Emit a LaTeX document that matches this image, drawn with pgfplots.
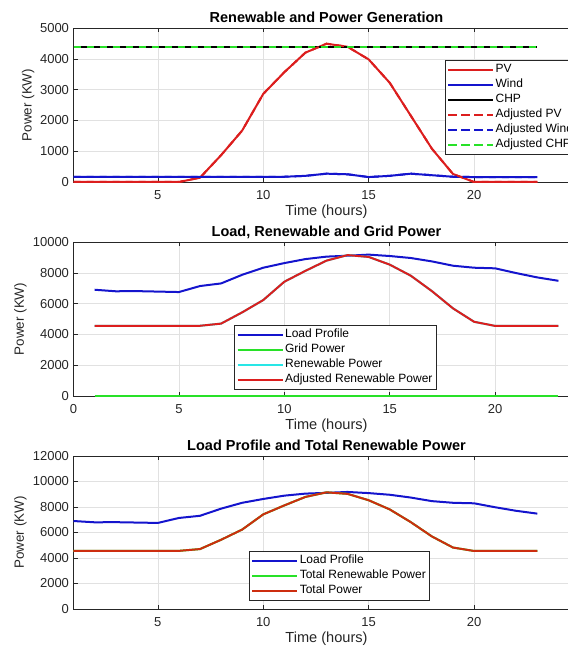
\documentclass[border=0pt]{standalone}
\usepackage{fontspec}
\setmainfont{Liberation Sans}
\usepackage{pgfplots}
\usepackage{pgfplotstable}
\pgfplotsset{compat=1.18}

\definecolor{mred}{RGB}{220,30,30}
\definecolor{mblue}{RGB}{20,20,205}
\definecolor{mgreen}{RGB}{40,225,40}
\definecolor{mcyan}{RGB}{40,230,230}
\definecolor{mbrown}{RGB}{205,45,15}
\definecolor{axgray}{RGB}{38,38,38}
\definecolor{gridgray}{RGB}{225,225,225}

\pgfplotstableread{
h pv wind chp
1 0 170 4390
2 0 170 4390
3 0 170 4390
4 0 170 4390
5 0 170 4390
6 0 170 4390
7 140 170 4390
8 870 170 4390
9 1670 170 4390
10 2860 170 4390
11 3565 170 4390
12 4200 200 4390
13 4490 270 4390
14 4390 250 4390
15 3980 160 4390
16 3220 200 4390
17 2150 270 4390
18 1080 220 4390
19 260 170 4390
20 0 160 4390
21 0 160 4390
22 0 160 4390
23 0 160 4390
}\gen

\pgfplotstableread{
h load grid ren
1 6900 0 4560
2 6800 0 4560
3 6810 0 4560
4 6780 0 4560
5 6750 0 4560
6 7140 0 4560
7 7310 0 4700
8 7870 0 5430
9 8330 0 6230
10 8630 0 7420
11 8890 0 8125
12 9050 0 8790
13 9110 0 9150
14 9180 0 9030
15 9090 0 8530
16 8960 0 7810
17 8740 0 6810
18 8460 0 5690
19 8330 0 4820
20 8290 0 4550
21 7980 0 4550
22 7700 0 4550
23 7480 0 4550
}\bal

\pgfplotsset{
  legend image code/.code={\path (0pt,0pt) -- (45pt,0pt); \draw[#1] (2pt,0pt) -- (43pt,0pt);},
  every axis title shift=0pt,
  myaxis/.style={
    scale only axis, width=506pt, anchor=south west,
    axis line style={axgray, line width=0.6pt},
    tick style={axgray, line width=0.5pt},
    tick align=inside, major tick length=4pt,
    grid=major, major grid style={gridgray, line width=0.5pt},
    ticklabel style={font=\fontsize{13}{15}\selectfont, text=axgray},
    xticklabel style={yshift=-5pt},
    yticklabel style={xshift=-1pt},
    /pgf/number format/assume math mode=true,
    /pgf/number format/1000 sep={},
    scaled y ticks=false, scaled x ticks=false,
    title style={at={(axis description cs:0.5,1)}, anchor=base, yshift=5pt, font=\bfseries\fontsize{14.5}{17}\selectfont, text=black},
    xlabel style={at={(axis description cs:0.5,0)}, anchor=base, yshift=-33.5pt, font=\fontsize{14.6}{17}\selectfont, text=axgray},
    ylabel style={anchor=base, rotate=0, font=\fontsize{13.4}{16}\selectfont, text=axgray},
    xlabel={Time (hours)}, ylabel={Power (KW)},
    clip=false,
    legend style={anchor=north west, draw=axgray, fill=white,
      font=\fontsize{12}{14}\selectfont, inner xsep=2pt, inner ysep=2pt,
      row sep=0pt, nodes={inner xsep=1.5pt, inner ysep=0.5pt, text height=10pt, text depth=4pt},
      cells={anchor=west}},
  }
}

\begin{document}
\begin{tikzpicture}
\begin{scope}
\clip (0,0) rectangle (568pt,646pt);

\begin{axis}[myaxis, at={(73.5pt,464pt)}, height=154pt,
  xmin=1, xmax=25, ymin=0, ymax=5000,
  xtick={5,10,15,20}, ytick={0,1000,...,5000},
  title={Renewable and Power Generation},
  ylabel style={at={(axis description cs:-0.083,0.5)}},
  legend style={at={(axis description cs:0.734,0.792)}}]
\addplot[color=mred, line width=2pt] table[x=h,y=pv]{\gen};
\addlegendentry{PV}
\addplot[color=mblue, line width=2pt] table[x=h,y=wind]{\gen};
\addlegendentry{Wind}
\addplot[color=black, line width=2pt] table[x=h,y=chp]{\gen};
\addlegendentry{CHP}
\addplot[color=mred, line width=2pt, dash pattern=on 7pt off 6pt] table[x=h,y=pv]{\gen};
\addlegendentry{Adjusted PV}
\addplot[color=mblue, line width=2pt, dash pattern=on 7pt off 6pt] table[x=h,y=wind]{\gen};
\addlegendentry{Adjusted Wind}
\addplot[color=mgreen, line width=2pt, dash pattern=on 7pt off 6pt] table[x=h,y=chp]{\gen};
\addlegendentry{Adjusted CHP}
\end{axis}

\begin{axis}[myaxis, at={(73.5pt,250pt)}, height=154pt,
  xmin=0, xmax=24, ymin=0, ymax=10000,
  xtick={0,5,10,15,20}, ytick={0,2000,...,10000},
  title={Load, Renewable and Grid Power},
  ylabel style={at={(axis description cs:-0.098,0.5)}},
  legend style={at={(axis description cs:0.318,0.461)}}]
\addplot[color=mblue, line width=2pt] table[x=h,y=load]{\bal};
\addlegendentry{Load Profile}
\addplot[color=mgreen, line width=2pt] table[x=h,y=grid]{\bal};
\addlegendentry{Grid Power}
\addplot[color=mcyan, line width=2pt] table[x=h,y=ren]{\bal};
\addlegendentry{Renewable Power}
\addplot[color=mred, line width=2pt] table[x=h,y=ren]{\bal};
\addlegendentry{Adjusted Renewable Power}
\end{axis}

\begin{axis}[myaxis, at={(73.5pt,37pt)}, height=153pt,
  xmin=1, xmax=25, ymin=0, ymax=12000,
  xtick={5,10,15,20}, ytick={0,2000,...,12000},
  title={Load Profile and Total Renewable Power},
  ylabel style={at={(axis description cs:-0.098,0.5)}},
  legend style={at={(axis description cs:0.347,0.379)}}]
\addplot[color=mblue, line width=2pt] table[x=h,y=load]{\bal};
\addlegendentry{Load Profile}
\addplot[color=mgreen, line width=2pt] table[x=h,y=ren]{\bal};
\addlegendentry{Total Renewable Power}
\addplot[color=mbrown, line width=2pt] table[x=h,y=ren]{\bal};
\addlegendentry{Total Power}
\end{axis}
\end{scope}
\pgfresetboundingbox
\useasboundingbox (0,0) rectangle (568pt,646pt);
\end{tikzpicture}
\end{document}
